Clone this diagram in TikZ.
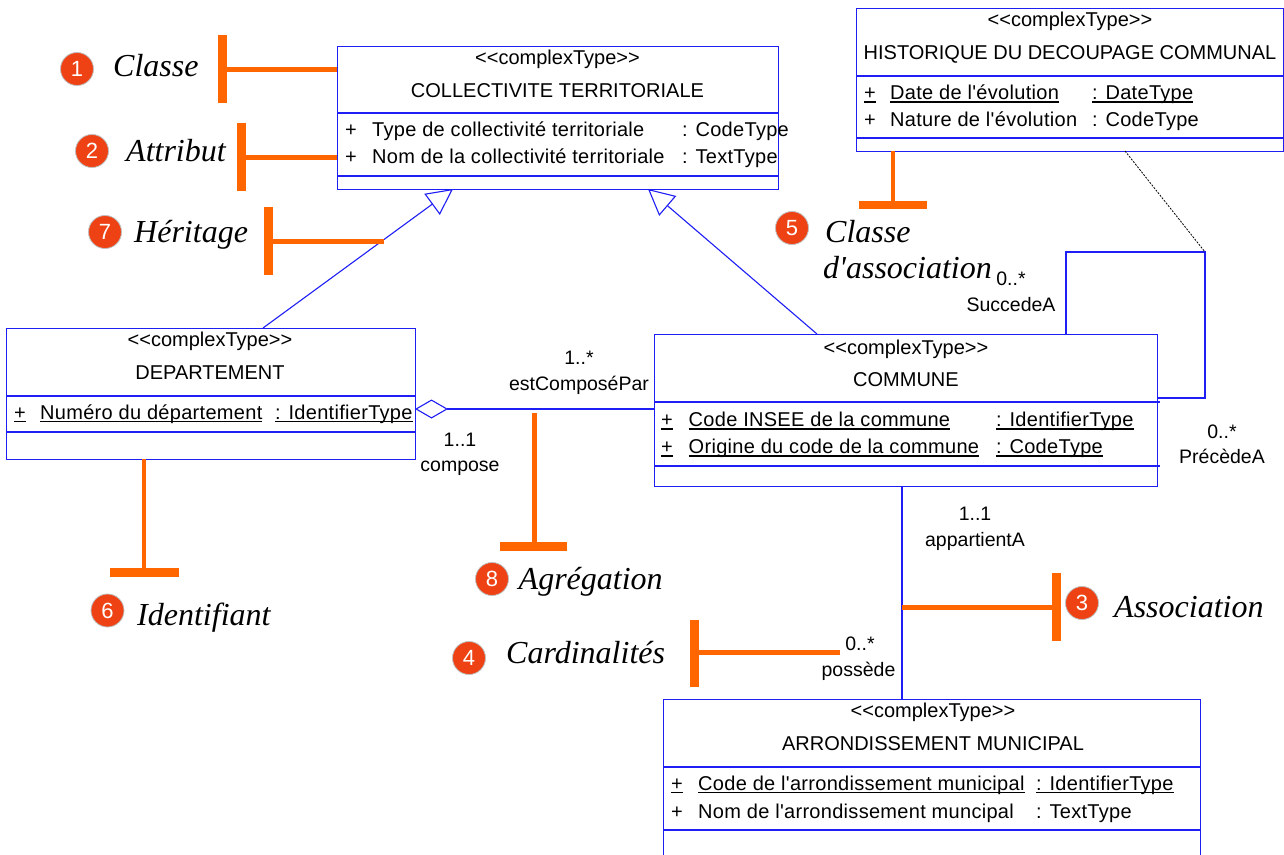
\documentclass[tikz,border=0pt]{standalone}
\usepackage{fontspec}
\newfontfamily\umlfont{Liberation Sans}
\newfontfamily\umlattr{Liberation Sans}[LetterSpace=1.5]
\newfontfamily\annfont{Liberation Serif}
\usetikzlibrary{arrows.meta}
\definecolor{umlblue}{RGB}{30,30,245}
\definecolor{annorange}{RGB}{255,102,0}
\definecolor{badgered}{RGB}{238,66,20}
\newcommand\myul[1]{\setbox0\hbox{#1}\rlap{\rule[-3pt]{\wd0}{1.3pt}}\box0}
\newcommand\stereo{<\kern0pt<complexType>\kern0pt>}
\begin{document}
\begin{tikzpicture}[x=1pt,y=-1pt,
  umlbox/.style={draw=umlblue, line width=1.2pt, inner sep=0pt, anchor=north west},
  sep/.style={draw=umlblue, line width=1.2pt},
  assoc/.style={draw=umlblue, line width=1.1pt},
  gen/.style={draw=umlblue, line width=1.1pt, -{Triangle[open, length=26pt, width=26pt]}},
  txt/.style={inner sep=0pt, font=\umlfont\fontsize{20}{24}\selectfont},
  ctxt/.style={txt, anchor=base},
  wtxt/.style={inner sep=0pt, anchor=base west, font=\umlattr\fontsize{20}{24}\selectfont},
  lbl/.style={inner sep=0pt, anchor=base, font=\umlfont\fontsize{19.5}{23}\selectfont},
  ann/.style={inner sep=0pt, anchor=base west, font=\annfont\itshape\fontsize{32}{36}\selectfont},
  badge/.style={circle, fill=badgered, draw=black!25, line width=0.8pt, minimum size=33pt, inner sep=0pt, text=white, font=\umlfont\fontsize{22}{24}\selectfont},
  barv/.style={draw=annorange, line width=9pt},
  barh/.style={draw=annorange, line width=8.3pt},
  pointer/.style={draw=annorange, line width=4.8pt},
]
\fill[white] (0,0) rectangle (1284,854);
\useasboundingbox (0,0) rectangle (1284,854);

% ---------- COLLECTIVITE TERRITORIALE ----------
\node[umlbox, minimum width=441pt, minimum height=143pt] (col) at (337,46) {};
\draw[sep] (337,113) -- (778,113);
\draw[sep] (337,176) -- (778,176);
\node[ctxt] (colst) at (557.5,64) {\stereo};
\node[ctxt] (colnm) at (557.5,97.5) {COLLECTIVITE TERRITORIALE};
\node[wtxt] (colp1) at (345,136.5) {+};
\node[wtxt] (cola1) at (372,136.5) {Type de collectivité territoriale};
\node[wtxt] (colt1) at (682,136.5) {: CodeType};
\node[wtxt] (colp2) at (345,163.5) {+};
\node[wtxt] (cola2) at (372,163.5) {Nom de la collectivité territoriale};
\node[wtxt] (colt2) at (682,163.5) {: TextType};

% ---------- HISTORIQUE ----------
\node[umlbox, minimum width=427pt, minimum height=143pt] (his) at (856,8) {};
\draw[sep] (856,76) -- (1283,76);
\draw[sep] (856,138) -- (1283,138);
\node[ctxt] (hisst) at (1070,26) {\stereo};
\node[ctxt] (hisnm) at (1070,59.5) {HISTORIQUE DU DECOUPAGE COMMUNAL};
\node[wtxt] (hisp1) at (864,99.5) {\myul{+}};
\node[wtxt] (hisa1) at (890,99.5) {\myul{Date de l'évolution}};
\node[wtxt] (hist1) at (1092,99.5) {\myul{: DateType}};
\node[wtxt] (hisp2) at (864,126.5) {+};
\node[wtxt] (hisa2) at (890,126.5) {Nature de l'évolution};
\node[wtxt] (hist2) at (1092,126.5) {: CodeType};

% ---------- DEPARTEMENT ----------
\node[umlbox, minimum width=409pt, minimum height=131pt] (dep) at (6,328) {};
\draw[sep] (6,396) -- (415,396);
\draw[sep] (6,432) -- (415,432);
\node[ctxt] (depst) at (210,346.5) {\stereo};
\node[ctxt] (depnm) at (210,379) {DEPARTEMENT};
\node[wtxt] (depp1) at (14,419) {\myul{+}};
\node[wtxt] (depa1) at (40,419) {\myul{Numéro du département}};
\node[wtxt] (dept1) at (275,419) {\myul{: IdentifierType}};

% ---------- COMMUNE ----------
\node[umlbox, minimum width=503pt, minimum height=152pt] (com) at (654,334) {};
\draw[sep] (654,402) -- (1160,402);
\draw[sep] (654,466) -- (1160,466);
\node[ctxt] (comst) at (906,354) {\stereo};
\node[ctxt] (comnm) at (906,386.5) {COMMUNE};
\node[wtxt] (comp1) at (661,426.5) {\myul{+}};
\node[wtxt] (coma1) at (688.5,426.5) {\myul{Code INSEE de la commune}};
\node[wtxt] (comt1) at (996,426.5) {\myul{: IdentifierType}};
\node[wtxt] (comp2) at (661,453.5) {\myul{+}};
\node[wtxt] (coma2) at (688.5,453.5) {\myul{Origine du code de la commune}};
\node[wtxt] (comt2) at (996,453.5) {\myul{: CodeType}};

% ---------- ARRONDISSEMENT MUNICIPAL ----------
\node[umlbox, minimum width=537pt, minimum height=171pt] (arr) at (663,699) {};
\draw[sep] (663,767) -- (1200,767);
\draw[sep] (663,830) -- (1200,830);
\node[ctxt] (arrst) at (933,717) {\stereo};
\node[ctxt] (arrnm) at (933,750) {ARRONDISSEMENT MUNICIPAL};
\node[wtxt] (arrp1) at (671,790) {\myul{+}};
\node[wtxt] (arra1) at (698,790) {\myul{Code de l'arrondissement municipal}};
\node[wtxt] (arrt1) at (1036,790) {\myul{: IdentifierType}};
\node[wtxt] (arrp2) at (671,818) {+};
\node[wtxt] (arra2) at (698,818) {Nom de l'arrondissement muncipal};
\node[wtxt] (arrt2) at (1036,818) {: TextType};

% ---------- connection points ----------
\coordinate (depTop) at (263,328);
\coordinate (colGenL) at (453,189);
\coordinate (comTop) at (817,334);
\coordinate (colGenR) at (648,189);
\coordinate (depAgg) at (415,409);
\coordinate (comAgg) at (654,409);
\coordinate (comBot) at (902,486);
\coordinate (arrTop) at (902,699);
\coordinate (loopA) at (1066,334);
\coordinate (loopB) at (1066,252);
\coordinate (loopC) at (1205,252);
\coordinate (loopD) at (1205,398);
\coordinate (loopE) at (1157,398);
\coordinate (hisBot) at (1125,151);

% ---------- connectors ----------
\draw[gen] (depTop) -- (colGenL);
\draw[gen] (comTop) -- (colGenR);
\draw[assoc, {Diamond[open, length=33pt, width=19pt]}-] (depAgg) -- (comAgg);
\draw[assoc] (comBot) -- (arrTop);
\draw[assoc] (loopA) -- (loopB) -- (loopC) -- (loopD) -- (loopE);
\draw[black, line width=0.8pt, dash pattern=on 2pt off 1.3pt] (hisBot) -- (loopC);

% ---------- role labels ----------
\node[lbl] (m1) at (1011,285.5) {0..*};
\node[lbl] (r1) at (1011,311.5) {SuccedeA};
\node[lbl] (m2) at (1222,438) {0..*};
\node[lbl] (r2) at (1222,463) {PrécèdeA};
\node[lbl] (m3) at (579,364) {1..*};
\node[lbl] (r3) at (579,390) {estComposéPar};
\node[lbl] (m4) at (460,446.5) {1..1};
\node[lbl] (r4) at (460,471) {compose};
\node[lbl] (m5) at (975,520) {1..1};
\node[lbl] (r5) at (975,546) {appartientA};
\node[lbl] (m6) at (860,650.5) {0..*};
\node[lbl] (r6) at (858.5,676.5) {possède};

% ---------- annotations ----------
% 1 Classe
\draw[barv] (222.8,35) -- (222.8,103);
\coordinate (a1s) at (222.8,69.7); \coordinate (a1e) at (337,69.7);
\draw[pointer] (a1s) -- (a1e);
\node[badge] (b1) at (77,69) {1};
\node[ann] (t1) at (113,76.5) {Classe};
% 2 Attribut
\draw[barv] (241,123.3) -- (241,191);
\coordinate (a2s) at (241,157.7); \coordinate (a2e) at (337,157.7);
\draw[pointer] (a2s) -- (a2e);
\node[badge] (b2) at (92,151) {2};
\node[ann] (t2) at (126,161) {Attribut};
% 7 Heritage
\draw[barv] (268.8,207.3) -- (268.8,275);
\coordinate (a7s) at (268.8,241.5); \coordinate (a7e) at (384,241.5);
\draw[pointer] (a7s) -- (a7e);
\node[badge] (b7) at (105,232) {7};
\node[ann] (t7) at (134,242.5) {Héritage};
% 5 Classe d'association
\coordinate (a5s) at (893,151); \coordinate (a5e) at (893,205);
\draw[pointer] (a5s) -- (a5e);
\draw[barh] (859,205.2) -- (927,205.2);
\node[badge] (b5) at (792,228) {5};
\node[ann] (t5a) at (825,242.5) {Classe};
\node[ann] (t5b) at (823,278.5) {d'association};
% 6 Identifiant
\coordinate (a6s) at (144,459); \coordinate (a6e) at (144,572.5);
\draw[pointer] (a6s) -- (a6e);
\draw[barh] (110,572.5) -- (179,572.5);
\node[badge] (b6) at (107.5,610.5) {6};
\node[ann] (t6) at (137,625) {Identifiant};
% 8 Agregation
\coordinate (a8s) at (534.5,413); \coordinate (a8e) at (534.5,546.5);
\draw[pointer] (a8s) -- (a8e);
\draw[barh] (500,546.5) -- (567.3,546.5);
\node[badge] (b8) at (492,579) {8};
\node[ann] (t8) at (518.5,589) {Agrégation};
% 3 Association
\coordinate (a3s) at (1056,607.7); \coordinate (a3e) at (902,607.7);
\draw[pointer] (a3s) -- (a3e);
\draw[barv] (1056,572.7) -- (1056,640.7);
\node[badge] (b3) at (1082,603) {3};
\node[ann] (t3) at (1114,617) {Association};
% 4 Cardinalites
\coordinate (a4s) at (694,652.3); \coordinate (a4e) at (839.5,652.3);
\draw[pointer] (a4s) -- (a4e);
\draw[barv] (694,620) -- (694,687.3);
\node[badge] (b4) at (469,658) {4};
\node[ann] (t4) at (506,663) {Cardinalités};
\end{tikzpicture}
\end{document}
